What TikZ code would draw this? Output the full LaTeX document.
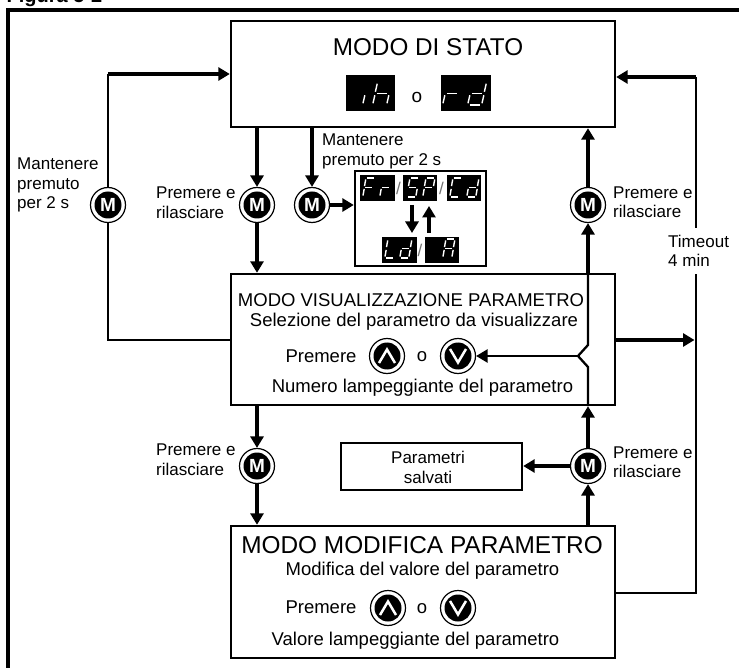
\documentclass[tikz,border=0pt]{standalone}
\usepackage{fontspec}
\setmainfont{Liberation Sans}
\usetikzlibrary{arrows.meta,calc}
\newcommand\fsz[1]{\fontsize{#1}{#1}\selectfont}
\newcommand\segA{\draw[segline] (4.2,-20)--(11.8,-20);}
\newcommand\segB{\draw[segline] (13,-18.5)--(11.7,-11.5);}
\newcommand\segC{\draw[segline] (11.3,-8.5)--(10,-1.5);}
\newcommand\segD{\draw[segline] (1.2,0)--(8.8,0);}
\newcommand\segE{\draw[segline] (0,-1.5)--(1.3,-8.5);}
\newcommand\segF{\draw[segline] (3,-18.5)--(1.7,-11.5);}
\newcommand\segG{\draw[segline] (2.7,-10)--(10.3,-10);}
\newcommand\bigdigit[3]{\begin{scope}[shift={(#1,#2)},xscale=1.4,yscale=1.15]\foreach \q in {#3}{\csname seg\q\endcsname}\end{scope}}
\newcommand\smalldigit[3]{\begin{scope}[shift={(#1,#2)},xscale=.9,yscale=.95]\foreach \q in {#3}{\csname seg\q\endcsname}\end{scope}}
\tikzset{
  segline/.style={white,line width=1.4pt},
  mainbox/.style={draw=black,line width=2.4pt,fill=white,inner sep=0pt},
  mbtn/.style={circle,draw=black,line width=1.2pt,fill=white,minimum size=35pt,inner sep=0pt,text=white,
    font=\fsz{19}\bfseries,
    path picture={\fill[black] (path picture bounding box.center) circle (13.5pt);}},
  ubtn/.style={mbtn,path picture={\fill[black] (path picture bounding box.center) circle (13.5pt);
    \draw[white,line width=2.5pt] ([shift={(-8,7)}]path picture bounding box.center) -- ([shift={(0,-6.5)}]path picture bounding box.center) -- ([shift={(8,7)}]path picture bounding box.center);}},
  dbtn/.style={mbtn,path picture={\fill[black] (path picture bounding box.center) circle (13.5pt);
    \draw[white,line width=2.5pt] ([shift={(-8,-7)}]path picture bounding box.center) -- ([shift={(0,6.5)}]path picture bounding box.center) -- ([shift={(8,-7)}]path picture bounding box.center);}},
  conn/.style={draw=black,line width=3.4pt,-{Triangle[length=11.5pt,width=13pt]}},
  thinconn/.style={draw=black,line width=2.3pt},
  thinarrow/.style={draw=black,line width=2.3pt,-{Triangle[length=11.5pt,width=13pt]}},
  lbl/.style={anchor=west,align=left,inner sep=0pt,font=\fsz{17}},
  ctext/.style={inner sep=0pt,font=\fsz{18.5}},
  disp/.style={fill=black,inner sep=0pt},
  slash/.style={inner sep=0pt,text=black!55,font=\fsz{17}}
}
\begin{document}
\begin{tikzpicture}[x=1pt,y=-1pt]
\useasboundingbox (0,0) rectangle (739,668);
\clip (0,0) rectangle (739,668);
\fill[white] (0,0) rectangle (739,668);
\node[anchor=base west,inner sep=0pt,font=\fsz{20}\bfseries] (title) at (6.5,3) {Figura 5-2};
\coordinate (fa) at (8.3,668);
\coordinate (fb) at (8.3,10.3);
\coordinate (fc) at (739,10.3);
\draw[line width=3.8pt,miter limit=10] (fa) -- (fb) -- (fc);

% main boxes
\node[mainbox,minimum width=384pt,minimum height=106pt] (box1) at (423,74) {};
\node[mainbox,minimum width=384pt,minimum height=131pt] (box2) at (423,339.5) {};
\node[mainbox,minimum width=384pt,minimum height=132pt] (box3) at (423,592) {};
\node[mainbox,minimum width=181pt,minimum height=47pt] (saved) at (431.5,466.5) {};
\node[mainbox,minimum width=131pt,minimum height=95pt] (inner) at (420.5,218.5) {};

% box 1 content
\node[inner sep=0pt,font=\fsz{24.3}] (t1) at (428,47) {MODO DI STATO};
\node[disp,minimum width=49pt,minimum height=36pt] (ih) at (370.5,93) {};
\node[disp,minimum width=50pt,minimum height=36pt] (rd) at (466,93) {};
\node[inner sep=0pt,font=\fsz{19}] (o1) at (417,97) {o};
\bigdigit{363}{105}{E}
\bigdigit{373}{105}{E,F,G,C}
\bigdigit{443}{105}{E,G}
\bigdigit{468}{105}{B,C,D,E,G}

% inner display box
\node[disp,minimum width=35pt,minimum height=26pt] (fr) at (377,188) {};
\node[disp,minimum width=34pt,minimum height=26pt] (sp) at (420,188) {};
\node[disp,minimum width=34pt,minimum height=26pt] (cd) at (464,188) {};
\node[disp,minimum width=35pt,minimum height=26pt] (ld) at (399.5,250.5) {};
\node[disp,minimum width=34pt,minimum height=26pt] (aa) at (442,250.5) {};
\node[slash] (s1) at (398.5,188) {/};
\node[slash] (s2) at (441.5,188) {/};
\node[slash] (s3) at (420,250) {/};
\smalldigit{363}{197}{A,E,F,G}
\smalldigit{380}{197}{E,G}
\smalldigit{407}{197}{A,C,D,F,G}
\smalldigit{423}{197}{A,B,E,F,G}
\smalldigit{450}{197}{A,D,E,F}
\smalldigit{467}{197}{B,C,D,E,G}
\smalldigit{385}{258}{D,E,F}
\smalldigit{400}{258}{B,C,D,E,G}
\smalldigit{443}{258}{A,B,C,E,F,G}

% box 2 content
\node[ctext] (t2a) at (411,300) {MODO VISUALIZZAZIONE PARAMETRO};
\node[ctext] (t2b) at (414,322) {Selezione del parametro da visualizzare};
\node[ctext] (t2c) at (321,356) {Premere};
\node[ctext] (t2d) at (422,356.5) {o};
\node[ctext] (t2e) at (422.5,388) {Numero lampeggiante del parametro};
\node[ubtn] (up2) at (387,356) {};
\node[dbtn] (dn2) at (458,356) {};

% box 3 content
\node[inner sep=0pt,font=\fsz{24.4}] (t3a) at (422,545) {MODO MODIFICA PARAMETRO};
\node[ctext] (t3b) at (422.5,571) {Modifica del valore del parametro};
\node[ctext] (t3c) at (321,607.5) {Premere};
\node[ctext] (t3d) at (422,609) {o};
\node[ctext] (t3e) at (415.5,641) {Valore lampeggiante del parametro};
\node[ubtn] (up3) at (388,608) {};
\node[dbtn] (dn3) at (458,608) {};

% saved box text
\node[inner sep=0pt,align=center,font=\fsz{17}] (st) at (428,467.5) {Parametri\\[2.5pt]salvati};

% M buttons
\node[mbtn] (mL) at (108,205) {M};
\node[mbtn] (mA) at (257,205) {M};
\node[mbtn] (mB) at (312,205) {M};
\node[mbtn] (mR) at (588,205) {M};
\node[mbtn] (mC) at (257,466) {M};
\node[mbtn] (mD) at (588,466) {M};

% labels
\node[lbl] (l1) at (17,185) {Mantenere\\[2.5pt]premuto\\[2.5pt]per 2 s};
\node[lbl] (l2) at (156,202.5) {Premere e\\[2.5pt]rilasciare};
\node[lbl] (l3) at (322,151.5) {Mantenere\\[2.5pt]premuto per 2 s};
\node[lbl] (l4) at (613,202) {Premere e\\[2.5pt]rilasciare};
\node[lbl] (l5) at (156,459.5) {Premere e\\[2.5pt]rilasciare};
\node[lbl] (l6) at (613,462) {Premere e\\[2.5pt]rilasciare};
\node[lbl] (l7) at (668,251) {Timeout\\[2.5pt]4 min};

% free ends
\coordinate (lb) at (108,340);
\coordinate (lt) at (108,74);
\coordinate (ra) at (696,593);
\coordinate (rb) at (696,274);
\coordinate (rc) at (696,228);
\coordinate (rd2) at (696,77);
\coordinate (rs) at (694.5,340);
\coordinate (ja) at (588,367);
\coordinate (jb) at (578,356);
\coordinate (jc) at (588,345);

% connectors
\draw[thinconn] (box2.west |- lb) -- (lb) -- (mL.south);
\draw[thinconn] (mL.north) -- (lt);
\draw[conn] (lt) -- (box1.west |- lt);
\draw[conn] (mA |- box1.south) -- (mA.north);
\draw[conn] (mA.south) -- (mA |- box2.north);
\draw[conn] (mB |- box1.south) -- (mB.north);
\draw[conn] (mB.east) -- (inner.west |- mB);
\draw[conn] (mC |- box2.south) -- (mC.north);
\draw[conn] (mC.south) -- (mC |- box3.north);
\draw[conn] (mD |- box3.north) -- (mD.south);
\draw[conn] (mD.north) -- (mD |- box2.south);
\draw[conn] (mD.west) -- (saved.east |- mD);
\draw[thinconn] (mD |- box2.south) -- (ja) -- (jb) -- (jc) -- (mR |- box2.north);
\draw[conn] (mR |- box2.north) -- (mR.south);
\draw[conn] (mR.north) -- (mR |- box1.south);
\draw[thinarrow] (jb) -- (dn2.east |- jb);
\draw[conn] (box2.east |- rs) -- (rs);
\draw[thinconn] (box3.east |- ra) -- (ra) -- (rb);
\draw[thinconn] (rc) -- (rd2);
\draw[conn] (rd2) -- (box1.east |- rd2);
\coordinate (ia) at (412,205);
\coordinate (ib) at (412,233);
\coordinate (ic) at (429,233);
\coordinate (id) at (429,206);
\draw[conn] (ia) -- (ib);
\draw[conn] (ic) -- (id);
\end{tikzpicture}
\end{document}
